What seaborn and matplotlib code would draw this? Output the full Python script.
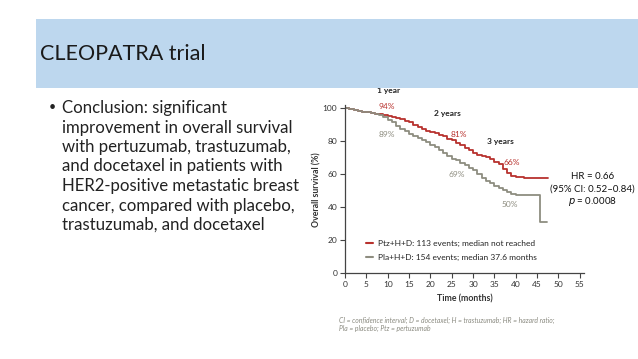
import numpy as np
import pandas as pd
import matplotlib
matplotlib.use("Agg")
import matplotlib.pyplot as plt
from matplotlib.lines import Line2D
from matplotlib.patches import Rectangle
import seaborn as sns

# ---- data ----
ptz_months = [0, 1, 2, 3, 4, 5, 6, 7, 8, 9, 10, 11, 12, 13, 14, 15, 16, 17, 18, 19, 20,
              21, 22, 23, 24, 25, 26, 27, 28, 29, 30, 31, 32, 33, 34, 35, 36, 37, 38,
              39, 40, 42, 47.6]
ptz_surv = [100, 99.5, 99, 98.5, 98, 97.5, 97, 96.8, 96.5, 96, 95.5, 95, 94, 93.5, 92.5,
            91.5, 90, 88.5, 87.5, 86.5, 85.5, 85, 84, 83, 81.5, 80.5, 79, 77.5, 76, 74.5,
            73, 71.5, 71, 70.5, 69, 67.5, 66, 63, 61, 59, 58.5, 57.5, 57.5]
pla_months = [0, 1, 2, 3, 4, 5, 6, 7, 8, 9, 10, 11, 12, 13, 14, 15, 16, 17, 18, 19, 20,
              21, 22, 23, 24, 25, 26, 27, 28, 29, 30, 31, 32, 33, 34, 35, 36, 37, 38,
              39, 40, 45.7, 47.4]
pla_surv = [100, 99.5, 99, 98.5, 98, 97.5, 97, 96.5, 96, 95, 93, 91.5, 89.5, 87.5, 86,
            84.5, 83, 82, 80.5, 79.5, 78, 76.5, 75, 73, 71, 69.5, 68.5, 67, 65.5, 64,
            62.5, 60, 58, 56, 54.5, 53, 51.5, 50.5, 49.5, 48, 47.5, 31, 31]

arm_names = ["Ptz+H+D", "Pla+H+D"]
legend_labels = ["Ptz+H+D: 113 events; median not reached",
                 "Pla+H+D: 154 events; median 37.6 months"]
milestone_labels = ["1 year", "2 years", "3 years"]
ptz_milestone_text = ["94%", "81%", "66%"]
pla_milestone_text = ["89%", "69%", "50%"]
x_ticks = [0, 5, 10, 15, 20, 25, 30, 35, 40, 45, 50, 55]
y_ticks = [0, 20, 40, 60, 80, 100]

bullet_lines = ["Conclusion: significant",
                "improvement in overall survival",
                "with pertuzumab, trastuzumab,",
                "and docetaxel in patients with",
                "HER2-positive metastatic breast",
                "cancer, compared with placebo,",
                "trastuzumab, and docetaxel"]

RED = "#B8322E"
GRAY = "#8E8D80"

df = pd.concat([
    pd.DataFrame({"month": ptz_months, "surv": ptz_surv, "arm": arm_names[0]}),
    pd.DataFrame({"month": pla_months, "surv": pla_surv, "arm": arm_names[1]}),
])

sns.set_style("ticks")
plt.rcParams["font.family"] = ["Lato", "DejaVu Sans"]

fig = plt.figure(figsize=(6.38, 3.59), dpi=100)

# title banner
fig.patches.append(Rectangle((36 / 638, 1 - 88 / 359), 1 - 36 / 638, 69 / 359,
                             transform=fig.transFigure, facecolor="#BDD7EE",
                             edgecolor="none", zorder=0))
fig.text(40 / 638, 1 - 54 / 359, "CLEOPATRA trial", fontsize=15.5, color="#1a1a1a",
         va="center", ha="left")

# bullet text
fig.text(49 / 638, 1 - 107 / 359, "•", fontsize=9, va="center", ha="left", color="#222222")
for i, line in enumerate(bullet_lines):
    fig.text(62 / 638, 1 - (108 + i * 19.5) / 359, line, fontsize=12.1,
             va="center", ha="left", color="#222222")

# chart axes
ax = fig.add_axes([345 / 638, (359 - 273.3) / 359, 239 / 638, 168.3 / 359])
sns.lineplot(data=df, x="month", y="surv", hue="arm", palette=[RED, GRAY],
             hue_order=arm_names, estimator=None, sort=False, drawstyle="steps-post",
             linewidth=1.3, legend=False, ax=ax)
ax.set_xlim(0, 56)
ax.set_ylim(0, 102)
ax.set_xticks(x_ticks)
ax.set_yticks(y_ticks)
ax.tick_params(labelsize=6, length=3.5, width=0.8, color="#444444", labelcolor="#333333", pad=2)
for s in ["top", "right"]:
    ax.spines[s].set_visible(False)
for s in ["left", "bottom"]:
    ax.spines[s].set_linewidth(0.9)
    ax.spines[s].set_color("#444444")
ax.set_xlabel("Time (months)", fontsize=6.3, fontweight="bold", color="#333333", labelpad=5)
ax.set_ylabel("Overall survival (%)", fontsize=6.3, fontweight="bold", color="#333333", labelpad=1)

# milestone annotations
ms_pos = [(10.2, 110.5), (23.9, 97), (36.3, 79.6)]
for (x, y), t in zip(ms_pos, milestone_labels):
    ax.text(x, y, t, fontsize=6, fontweight="bold", color="#222222",
            ha="center", va="center", clip_on=False)
ptz_pos = [(9.8, 100.8), (26.6, 84.0), (39.0, 67.0)]
pla_pos = [(9.8, 84.2), (26.2, 60.0), (38.6, 41.4)]
for (x, y), t in zip(ptz_pos, ptz_milestone_text):
    ax.text(x, y, t, fontsize=6, color=RED, ha="center", va="center", clip_on=False)
for (x, y), t in zip(pla_pos, pla_milestone_text):
    ax.text(x, y, t, fontsize=6, color=GRAY, ha="center", va="center", clip_on=False)

# HR text
ax.text(58, 58.5, "HR = 0.66", fontsize=7, ha="center", va="center", color="#111111", clip_on=False)
ax.text(58, 50.8, "(95% CI: 0.52–0.84)", fontsize=7, ha="center", va="center", color="#111111", clip_on=False)
ax.text(58, 43.7, "$p$ = 0.0008", fontsize=7, ha="center", va="center", color="#111111", clip_on=False)

# legend
handles = [Line2D([], [], color=RED, lw=1.5), Line2D([], [], color=GRAY, lw=1.5)]
ax.legend(handles, legend_labels, loc="lower left", bbox_to_anchor=(0.055, 0.03),
          frameon=False, fontsize=6, handlelength=0.9, handletextpad=0.6,
          labelspacing=0.75, labelcolor="#222222")

# footnote
fig.text(339 / 638, 1 - 320 / 359,
         "CI = confidence interval; D = docetaxel; H = trastuzumab; HR = hazard ratio;",
         fontsize=4.9, style="italic", color="#8A8A80", va="center", ha="left")
fig.text(339 / 638, 1 - 328.5 / 359, "Pla = placebo; Ptz = pertuzumab",
         fontsize=4.9, style="italic", color="#8A8A80", va="center", ha="left")

fig.savefig("out.png", dpi=100)
